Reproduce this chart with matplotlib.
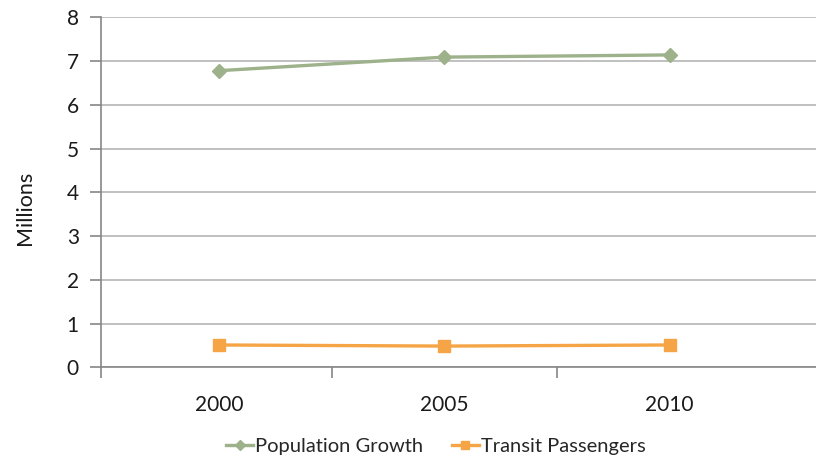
import matplotlib.pyplot as plt
from matplotlib.ticker import FixedLocator, NullFormatter

plt.rcParams['font.family'] = ['Lato', 'DejaVu Sans']

years = ['2000', '2005', '2010']
population = [6.78, 7.09, 7.14]
transit = [0.51, 0.485, 0.51]

green = '#9DB18B'
orange = '#F5A446'
grid_gray = '#B5B5B5'
axis_gray = '#868686'

fig = plt.figure(figsize=(8.16, 4.59), dpi=100)
ax = fig.add_axes([0.1238, 0.1998, 0.8762, 0.7625])

x = range(len(years))
ax.plot(x, population, color=green, lw=2.4, marker='D', ms=7,
        label='Population Growth', zorder=3)
ax.plot(x, transit, color=orange, lw=2.4, marker='s', ms=8,
        label='Transit Passengers', zorder=3)

ax.set_xlim(-0.525, 2.65)
ax.set_ylim(0, 8)
ax.set_yticks(range(0, 9))
ax.set_xticks(list(x))
ax.set_xticklabels(years)
ax.xaxis.set_minor_locator(FixedLocator([-0.525, 0.5, 1.5]))
ax.xaxis.set_minor_formatter(NullFormatter())

ax.grid(axis='y', color=grid_gray, lw=1.2)
ax.set_axisbelow(True)
for s in ['top', 'right']:
    ax.spines[s].set_visible(False)
for s in ['left', 'bottom']:
    ax.spines[s].set_color(axis_gray)
    ax.spines[s].set_linewidth(1.2)

ax.tick_params(axis='y', length=8, color=axis_gray, width=1.2,
               labelsize=15, pad=8, labelcolor='#1a1a1a')
ax.tick_params(axis='x', which='major', length=0, labelsize=15, pad=20,
               labelcolor='#1a1a1a')
ax.tick_params(axis='x', which='minor', length=8, color=axis_gray, width=1.2)

ax.set_ylabel('Millions', fontsize=15.5, color='#1a1a1a')
ax.yaxis.set_label_coords(-0.092, 0.455)

fig.legend(loc='center', bbox_to_anchor=(0.534, 0.028), ncol=2, frameon=False,
           fontsize=14.5, handlelength=1.35, handletextpad=0.1,
           columnspacing=1.4, labelcolor='#262626', markerscale=0.8)

fig.savefig('out.png', dpi=100)
